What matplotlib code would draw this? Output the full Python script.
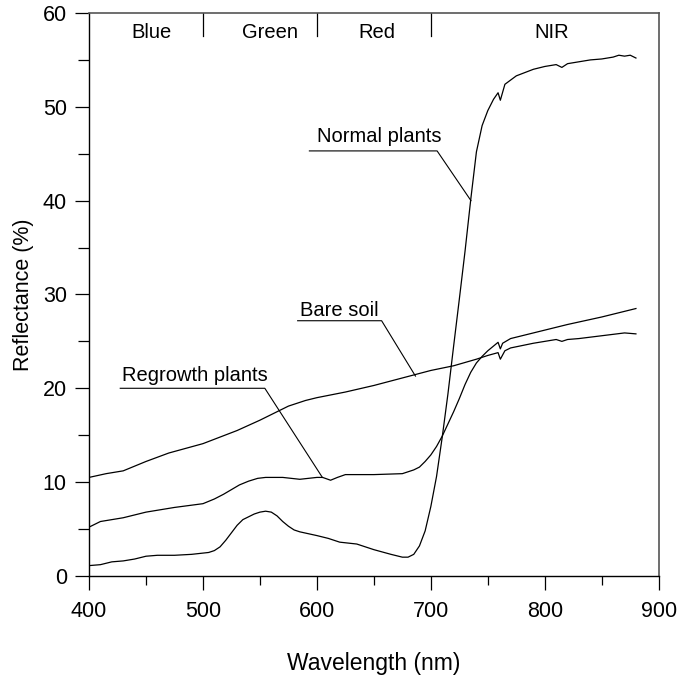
import matplotlib
matplotlib.use("Agg")
import matplotlib.pyplot as plt
from matplotlib.ticker import MultipleLocator

plt.rcParams['font.family'] = ['Liberation Sans', 'DejaVu Sans']

# ---- data ----
normal_wl = [400, 410, 420, 430, 440, 450, 460, 475, 490, 505, 510, 515, 520, 525, 530, 535, 540,
             545, 550, 555, 560, 565, 570, 575, 580, 585, 600, 610, 620, 635, 650, 665, 675, 680,
             685, 690, 695, 700, 705, 710, 715, 720, 725, 730, 735, 740, 745, 750, 755, 759, 761,
             765, 775, 790, 800, 810, 815, 820, 830, 840, 850, 860, 865, 870, 875, 880]
normal_refl = [1.1, 1.2, 1.5, 1.6, 1.8, 2.1, 2.2, 2.2, 2.3, 2.5, 2.7, 3.1, 3.8, 4.6, 5.4, 6.0, 6.3,
               6.6, 6.8, 6.9, 6.8, 6.4, 5.8, 5.3, 4.9, 4.7, 4.3, 4.0, 3.6, 3.4, 2.8, 2.3, 2.0, 2.0,
               2.3, 3.2, 4.8, 7.4, 10.6, 14.8, 19.4, 24.5, 29.5, 34.6, 40.1, 45.2, 48.0, 49.6, 50.8, 51.5, 50.7,
               52.4, 53.3, 54.0, 54.3, 54.5, 54.2, 54.6, 54.8, 55.0, 55.1, 55.3, 55.5, 55.4, 55.5, 55.2]

regrowth_wl = [400, 410, 430, 450, 475, 500, 510, 518, 525, 532, 540, 548, 555, 570, 585, 600, 605,
               612, 618, 625, 650, 675, 685, 690, 695, 700, 705, 710, 715, 720, 725, 730, 735, 740,
               745, 750, 755, 759, 761, 763, 770, 790, 820, 850, 880]
regrowth_refl = [5.2, 5.8, 6.2, 6.8, 7.3, 7.7, 8.2, 8.7, 9.2, 9.7, 10.1, 10.4, 10.5, 10.5, 10.3, 10.5, 10.5,
                 10.2, 10.5, 10.8, 10.8, 10.9, 11.3, 11.6, 12.2, 12.9, 13.8, 14.9, 16.2, 17.5, 18.9, 20.4, 21.7, 22.7,
                 23.4, 24.0, 24.5, 24.9, 24.2, 24.8, 25.3, 25.9, 26.8, 27.6, 28.5]

soil_wl = [400, 415, 430, 450, 470, 500, 530, 550, 575, 590, 600, 625, 650, 675, 700, 720,
           740, 750, 759, 761, 765, 770, 790, 810, 815, 820, 830, 850, 870, 880]
soil_refl = [10.5, 10.9, 11.2, 12.2, 13.1, 14.1, 15.5, 16.6, 18.1, 18.7, 19.0, 19.6, 20.3, 21.1, 21.9, 22.4,
             23.1, 23.5, 23.8, 23.1, 24.0, 24.3, 24.8, 25.2, 25.0, 25.2, 25.3, 25.6, 25.9, 25.8]

band_names = ['Blue', 'Green', 'Red', 'NIR']
band_label_x = [455, 559, 653, 806]
band_edges = [500, 600, 700]

# annotations: (text, text_x, text_y, underline_x0, underline_x1, underline_y, target_x, target_y)
annotations = [
    ('Normal plants', 654.5, 46.8, 593.4, 705.5, 45.3, 735.2, 40.0),
    ('Bare soil', 620.0, 28.3, 583.1, 656.8, 27.2, 686.5, 21.3),
    ('Regrowth plants', 492.7, 21.4, 427.4, 554.3, 20.0, 604.8, 10.5),
]

fig = plt.figure(figsize=(6.77, 6.84), dpi=100)
ax = fig.add_axes([0.1315, 0.158, 0.8415, 0.823])

lw = 0.9
ax.plot(normal_wl, normal_refl, color='black', lw=lw)
ax.plot(regrowth_wl, regrowth_refl, color='black', lw=lw)
ax.plot(soil_wl, soil_refl, color='black', lw=lw)

for e in band_edges:
    ax.plot([e, e], [57.6, 60], color='black', lw=lw)
for name, bx in zip(band_names, band_label_x):
    ax.text(bx, 57.9, name, ha='center', va='center', fontsize=14.5)

for txt, tx, ty, u0, u1, uy, px, py in annotations:
    ax.text(tx, ty, txt, ha='center', va='center', fontsize=14.5)
    ax.plot([u0, u1, px], [uy, uy, py], color='black', lw=0.8)

ax.set_xlim(400, 900)
ax.set_ylim(0, 60)
ax.xaxis.set_major_locator(MultipleLocator(100))
ax.xaxis.set_minor_locator(MultipleLocator(50))
ax.yaxis.set_major_locator(MultipleLocator(10))
ax.yaxis.set_minor_locator(MultipleLocator(5))
ax.tick_params(axis='both', which='major', direction='out', length=10, width=0.9,
               labelsize=15.5, pad=6)
ax.tick_params(axis='x', which='minor', direction='out', length=6.5, width=0.9)
ax.tick_params(axis='y', which='minor', direction='out', length=8, width=0.9)
ax.tick_params(axis='x', which='major', pad=8)

for side in ['left', 'bottom']:
    ax.spines[side].set_linewidth(1.0)
    ax.spines[side].set_color('black')
for side in ['top', 'right']:
    ax.spines[side].set_linewidth(1.2)
    ax.spines[side].set_color('#555555')

ax.set_xlabel('Wavelength (nm)', fontsize=16.5, labelpad=22)
ax.set_ylabel('Reflectance (%)', fontsize=15.5, labelpad=6)

fig.savefig('out.png', dpi=100)
